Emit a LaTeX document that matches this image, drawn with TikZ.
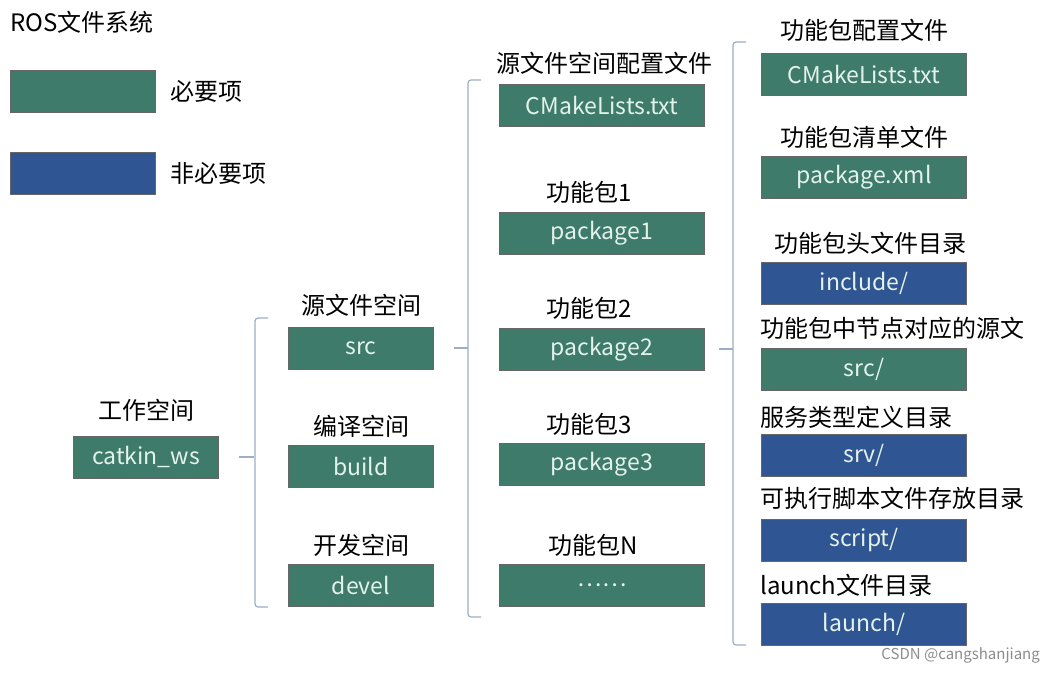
\documentclass[tikz,border=0pt]{standalone}
\usepackage{fontspec}
\setmainfont{Noto Sans CJK SC}
\usetikzlibrary{positioning}
\definecolor{needgreen}{HTML}{3E7B6B}
\definecolor{optblue}{HTML}{2F5592}
\definecolor{boxtext}{HTML}{E4F2EC}
\definecolor{bracecol}{HTML}{9DAEC4}
\tikzset{
    box/.style={draw=black!60,minimum width=145pt,minimum height=42pt,inner sep=0pt,
        text=boxtext,font=\fontsize{23}{26}\selectfont},
    need/.style={box,fill=needgreen},
    opt/.style={box,fill=optblue},
    wide/.style={minimum width=205pt},
    lbl/.style={font=\fontsize{24}{27}\selectfont,inner sep=0pt},
    brace/.style={draw=bracecol,line width=1.2pt,rounded corners=3pt}}
\begin{document}
\begin{tikzpicture}[x=1pt,y=-1pt]
    \useasboundingbox (0,0) rectangle (1056,674);
    % legend
    \node[lbl,anchor=west] (title) at (10,22) {ROS文件系统};
    \node[need] (lneed) at (83,91) {};
    \node[opt] (lopt) at (83,173) {};
    \node[lbl,anchor=west] (tneed) at (170,91) {必要项};
    \node[lbl,anchor=west] (topt) at (170,173) {非必要项};

    % workspace
    \node[need] (ws) at (146,457) {catkin\_ws};
    \node[lbl] (tws) at (146,410) {工作空间};

    % spaces
    \node[need] (src) at (361,348) {src};
    \node[lbl] (tsrc) at (361,305) {源文件空间};
    \node[need] (build) at (361,466) {build};
    \node[lbl] (tbuild) at (361,426) {编译空间};
    \node[need] (devel) at (361,585) {devel};
    \node[lbl] (tdevel) at (361,545) {开发空间};

    % packages
    \node[need,wide] (cml) at (602,105) {CMakeLists.txt};
    \node[lbl] (tcml) at (604,63) {源文件空间配置文件};
    \node[need,wide] (pk1) at (602,233) {package1};
    \node[lbl] (tpk1) at (589,192) {功能包1};
    \node[need,wide] (pk2) at (602,349) {package2};
    \node[lbl] (tpk2) at (589,308) {功能包2};
    \node[need,wide] (pk3) at (602,464) {package3};
    \node[lbl] (tpk3) at (589,424) {功能包3};
    \node[need,wide] (pkn) at (602,585) {……};
    \node[lbl] (tpkn) at (593,545) {功能包N};

    % package contents
    \node[need,wide] (pcml) at (864,74) {CMakeLists.txt};
    \node[lbl] (tpcml) at (864,30) {功能包配置文件};
    \node[need,wide] (pxml) at (864,177) {package.xml};
    \node[lbl] (tpxml) at (864,137) {功能包清单文件};
    \node[opt,wide] (inc) at (864,283) {include/};
    \node[lbl] (tinc) at (870,243) {功能包头文件目录};
    \node[need,wide] (psrc) at (864,369) {src/};
    \node[lbl,anchor=west] (tpsrc) at (760,328) {功能包中节点对应的源文};
    \node[opt,wide] (srv) at (864,455) {srv/};
    \node[lbl,anchor=west] (tsrv) at (760,417) {服务类型定义目录};
    \node[opt,wide] (scr) at (864,540) {script/};
    \node[lbl,anchor=west] (tscr) at (760,498) {可执行脚本文件存放目录};
    \node[opt,wide] (lau) at (864,624) {launch/};
    \node[lbl,anchor=west] (tlau) at (760,585) {launch文件目录};

    % braces
    \coordinate (b1t) at (268,318);
    \coordinate (b1b) at (268,607);
    \draw[brace] (ws.east) ++(20,0) -- ++(15,0);
    \draw[brace] (b1t) -| (255,462) |- (b1b);
    \draw[brace] (src.east) ++(20,0) -- ++(14,0);
    \draw[brace] (481,80) -| (468,349) |- (481,617);
    \draw[brace] (pk2.east) ++(14,0) -- ++(14,0);
    \draw[brace] (746,42) -| (733,350) |- (746,645);

    \node[lbl,anchor=east,text=black!45,font=\fontsize{15}{18}\selectfont] (mark) at (1040,655) {CSDN @cangshanjiang};
\end{tikzpicture}
\end{document}
